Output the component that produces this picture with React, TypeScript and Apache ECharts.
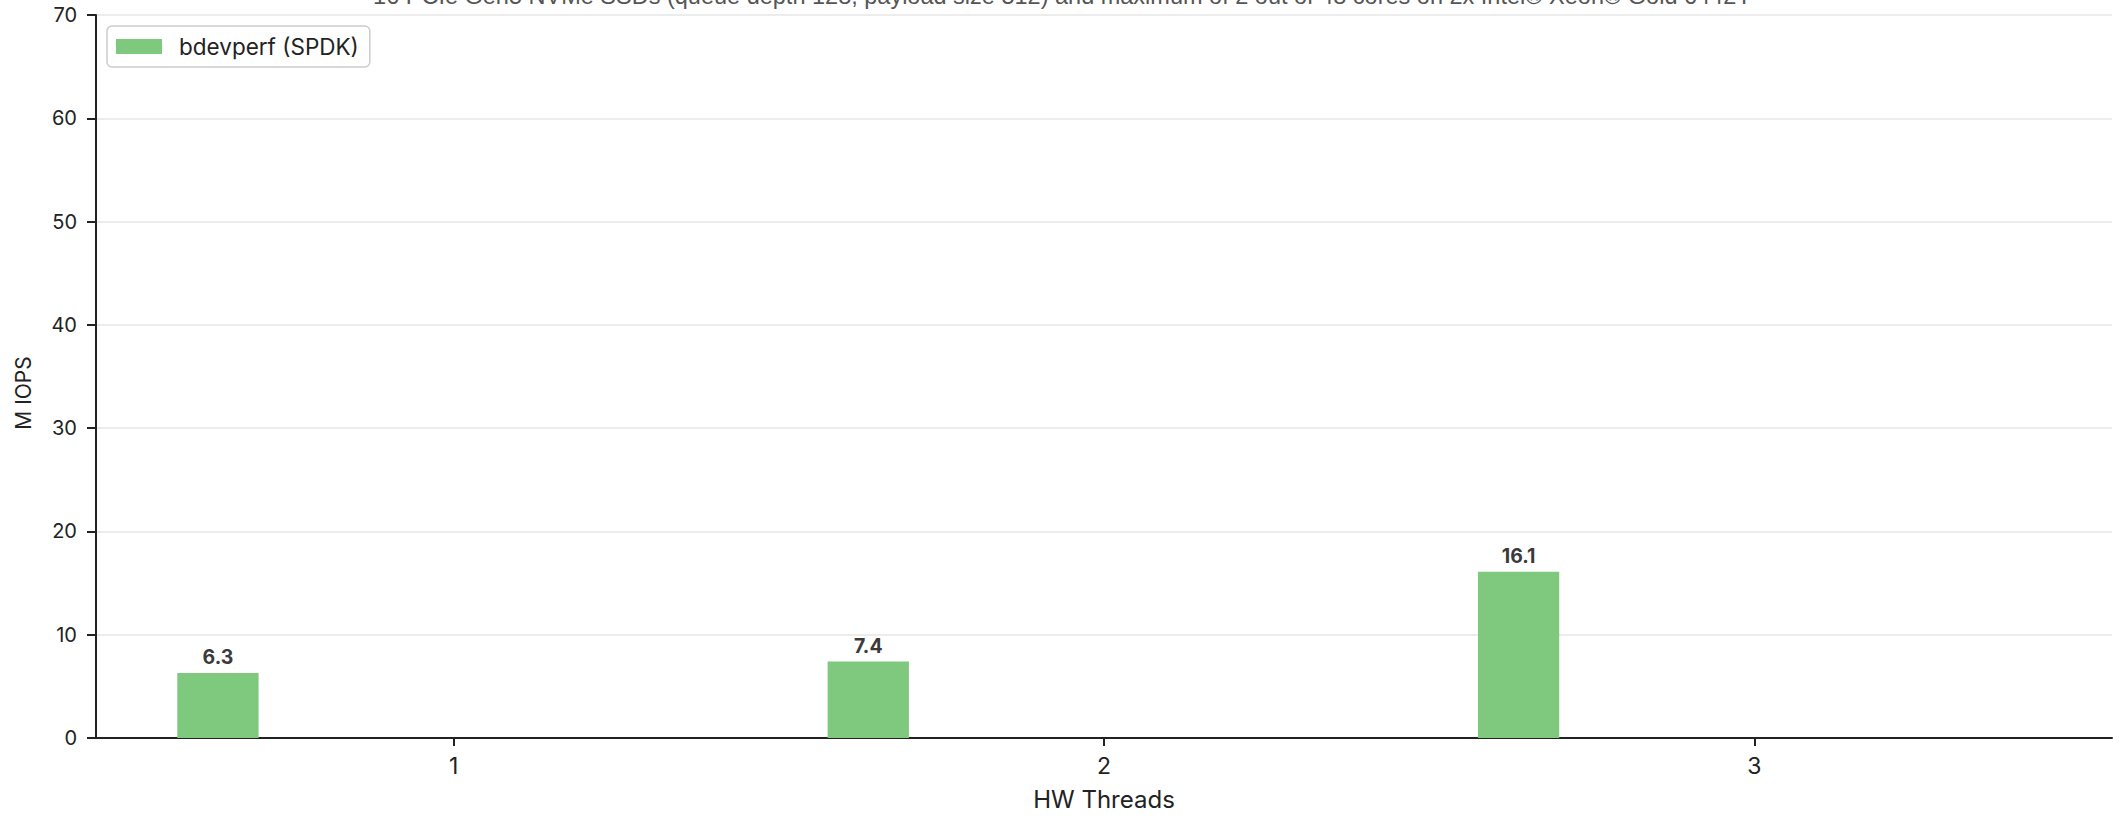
import React, { useEffect, useRef } from "react";
import * as echarts from "echarts";

// Hardware threads on the x axis and the measured millions of IOPS per run
const THREADS = [1, 2, 3];
const M_IOPS = [6.3, 7.4, 16.1];
const Y_TICKS = [0, 10, 20, 30, 40, 50, 60, 70];

const SERIES_NAME = "bdevperf (SPDK)";
const TITLE_TEXT =
  "16 PCIe Gen5 NVMe SSDs (queue depth 128, payload size 512) and maximum of 2 out of 48 cores on 2x Intel® Xeon® Gold 6442Y";
const Y_NAME = "M IOPS";

// This series occupies the first slot of each thread group (slot width 1/8 of a group)
const SLOT_OFFSET = -0.3625;
const SLOT_WIDTH = "12.5%";

const FONT = "Inter, 'Noto Sans', sans-serif";

export default function App() {
  const ref = useRef<HTMLDivElement>(null);

  useEffect(() => {
    document.body.style.margin = "0";
    const chart = echarts.init(ref.current!, null, { renderer: "svg" });
    const points = THREADS.map((t, i) => [t + SLOT_OFFSET, M_IOPS[i]]);

    chart.setOption({
      animation: false,
      backgroundColor: "#ffffff",
      textStyle: { fontFamily: FONT },
      graphic: [
        {
          type: "text",
          x: 1062.5,
          y: 8,
          style: {
            text: TITLE_TEXT,
            fontFamily: "'Liberation Sans', Arial, sans-serif",
            fontSize: 23.5,
            fill: "#555555",
            textAlign: "center",
            textVerticalAlign: "bottom",
          },
        },
        {
          type: "text",
          x: 23,
          y: 393,
          rotation: Math.PI / 2,
          style: {
            text: Y_NAME,
            fontFamily: FONT,
            fontSize: 21,
            fill: "#222222",
            textAlign: "center",
            textVerticalAlign: "middle",
          },
        },
      ],
      legend: {
        data: [SERIES_NAME],
        left: 107,
        top: 26,
        orient: "vertical",
        padding: [9, 11, 9, 9],
        itemWidth: 46,
        itemHeight: 15,
        borderColor: "#cccccc",
        borderWidth: 1.5,
        borderRadius: 5,
        icon: "rect",
        textStyle: {
          fontFamily: FONT,
          fontSize: 22.5,
          color: "#222222",
          padding: [0, 0, 0, 12],
        },
      },
      grid: { left: 96, right: 13, top: 15, bottom: 84, containLabel: false },
      xAxis: {
        type: "value",
        min: 0.45,
        max: 3.55,
        name: "HW Threads",
        nameLocation: "middle",
        nameGap: 49,
        nameTextStyle: { fontFamily: FONT, fontSize: 24, color: "#222222" },
        axisLine: { show: true, lineStyle: { color: "#222222", width: 2 } },
        axisTick: {
          show: true,
          customValues: THREADS,
          length: 8,
          lineStyle: { color: "#222222", width: 2 },
        },
        axisLabel: {
          customValues: THREADS,
          fontFamily: FONT,
          fontSize: 23,
          color: "#222222",
          margin: 16,
        },
        splitLine: { show: false },
      },
      yAxis: {
        type: "value",
        min: 0,
        max: 70,
        interval: 10,
        axisLine: { show: true, lineStyle: { color: "#222222", width: 2 } },
        axisTick: {
          show: true,
          length: 9,
          lineStyle: { color: "#222222", width: 2 },
        },
        axisLabel: {
          fontFamily: FONT,
          fontSize: 20,
          color: "#222222",
          margin: 19,
          customValues: Y_TICKS,
        },
        splitLine: { show: true, lineStyle: { color: "#e6e6e6", width: 1.5 } },
      },
      series: [
        {
          name: SERIES_NAME,
          type: "bar",
          data: points,
          barWidth: SLOT_WIDTH,
          itemStyle: { color: "#7fc97f" },
          label: {
            show: true,
            position: "top",
            distance: 6,
            fontFamily: FONT,
            fontSize: 19.5,
            fontWeight: "bold",
            color: "#3a3a3a",
            formatter: (p: any) => p.value[1].toFixed(1),
          },
        },
      ],
    });

    return () => chart.dispose();
  }, []);

  return (
    <div
      ref={ref}
      style={{ position: "fixed", left: 0, top: 0, width: 2125, height: 822 }}
    />
  );
}
